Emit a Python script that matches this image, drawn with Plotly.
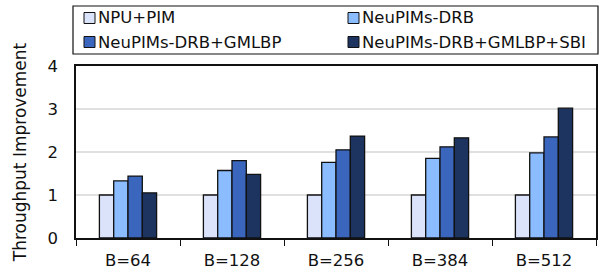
import plotly.graph_objects as go

categories = ["B=64", "B=128", "B=256", "B=384", "B=512"]
series_names = ["NPU+PIM", "NeuPIMs-DRB", "NeuPIMs-DRB+GMLBP", "NeuPIMs-DRB+GMLBP+SBI"]
npu_pim = [1.0, 1.0, 1.0, 1.0, 1.0]
drb = [1.33, 1.57, 1.76, 1.85, 1.98]
drb_gmlbp = [1.44, 1.80, 2.05, 2.12, 2.35]
drb_gmlbp_sbi = [1.05, 1.48, 2.37, 2.33, 3.02]
series_values = [npu_pim, drb, drb_gmlbp, drb_gmlbp_sbi]
colors = ["#dae3fa", "#8bbcff", "#3b66bd", "#1d3461"]
y_ticks = [0, 1, 2, 3, 4]

W, H = 600, 276
ML, MR, MT, MB = 76, 4, 66, 38
PW, PH = W - ML - MR, H - MT - MB
FONT = "Verdana, DejaVu Sans, sans-serif"
FS = 16.5


def px_x(p):
    return (p - ML) / PW


def px_y(p):
    return (H - MB - p) / PH


fig = go.Figure()
for name, vals, col in zip(series_names, series_values, colors):
    fig.add_trace(go.Bar(
        x=categories, y=vals, name=name,
        marker=dict(color=col, line=dict(color="#111111", width=1.3)),
        showlegend=False,
    ))

shapes = [dict(type="rect", xref="paper", yref="paper",
               x0=px_x(73), x1=px_x(598), y0=px_y(54), y1=px_y(6),
               line=dict(color="#111111", width=1.2), fillcolor="white", layer="above")]
annotations = []
leg_pos = [(84, 18), (348, 18), (84, 42), (348, 42)]
for (lx, ly), name, col in zip(leg_pos, series_names, colors):
    shapes.append(dict(type="rect", xref="paper", yref="paper",
                       x0=px_x(lx), x1=px_x(lx + 11), y0=px_y(ly + 5.5), y1=px_y(ly - 5.5),
                       line=dict(color="#111111", width=1), fillcolor=col, layer="above"))
    annotations.append(dict(text=name, xref="paper", yref="paper",
                            x=px_x(lx + 12), y=px_y(ly), xanchor="left", yanchor="middle",
                            showarrow=False, font=dict(family=FONT, size=FS, color="#111111")))

fig.update_layout(
    width=W, height=H,
    margin=dict(l=ML, r=MR, t=MT, b=MB, autoexpand=False),
    paper_bgcolor="white", plot_bgcolor="white",
    barmode="group", bargap=0.45, bargroupgap=0,
    font=dict(family=FONT, size=FS, color="#111111"),
    shapes=shapes, annotations=annotations,
    xaxis=dict(
        type="category", tickson="boundaries", ticks="outside", ticklen=6,
        tickcolor="#111111", tickwidth=1.3, automargin=False,
        showline=True, linecolor="#111111", linewidth=1.5, mirror=True,
        showgrid=False, ticklabelstandoff=6,
        tickfont=dict(family=FONT, size=FS, color="#111111"),
    ),
    yaxis=dict(
        range=[0, 4], tickvals=y_ticks, ticks="", automargin=False,
        showline=True, linecolor="#111111", linewidth=1.5, mirror=True,
        showgrid=True, gridcolor="#e0e0e0", gridwidth=2,
        zeroline=False, ticklabelstandoff=13,
        tickfont=dict(family=FONT, size=FS, color="#111111"),
        title=dict(text="Throughput Improvement", standoff=17,
                   font=dict(family=FONT, size=17, color="#111111")),
    ),
)

fig.write_html(
    "out.html",
    config={"displayModeBar": False},
    post_script="document.body.style.margin='0';document.body.style.padding='0';",
)
